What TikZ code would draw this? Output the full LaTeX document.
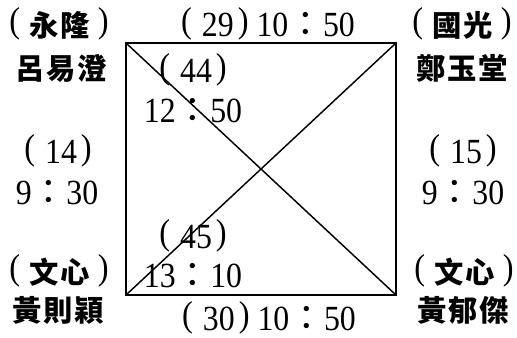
\documentclass[tikz,border=0pt]{standalone}
\usepackage{fontspec}
\setmainfont{Liberation Serif}
\newfontfamily\cjkfont[LetterSpace=6]{Noto Sans CJK TC}
\newfontfamily\colonfont{Noto Sans CJK TC}
\newfontfamily\numfont[FakeStretch=0.9]{Liberation Serif}
\usetikzlibrary{positioning}
% parentheses and colon as printed
\newcommand{\lpr}{{\numfont\mdseries\fontsize{27}{30}\selectfont\raisebox{2.5pt}{(}}}
\newcommand{\rpr}{{\numfont\mdseries\fontsize{27}{30}\selectfont\raisebox{2.5pt}{)}}}
\newcommand{\pnum}[1]{\lpr\kern7.5pt#1\kern3pt\rpr}
\newcommand{\hm}[2]{#1{\colonfont\fontsize{26}{30}\selectfont ：}#2}
\newcommand{\team}[1]{\lpr\kern7pt#1\kern6pt\rpr}
\tikzset{
  numtext/.style={anchor=base, inner sep=0pt,
    font=\numfont\fontsize{26.5}{30}\selectfont},
  nametext/.style={anchor=base, inner sep=0pt,
    font=\cjkfont\bfseries\fontsize{22}{26}\selectfont},
  frame/.style={line width=2.2pt, line join=miter},
  diag/.style={line width=1.1pt}
}
\begin{document}
\begin{tikzpicture}[x=0.75pt,y=-0.75pt]
  \useasboundingbox (0,0) rectangle (517,337);
  % Corners of the court
  \coordinate (nw) at (126,43);
  \coordinate (ne) at (396,43);
  \coordinate (se) at (396,295);
  \coordinate (sw) at (126,295);

  % Court and diagonals
  \draw[frame] (nw) -- (ne) -- (se) -- (sw) -- cycle;
  \draw[diag] (nw) -- (se);
  \draw[diag] (sw) -- (ne);

  % Teams at the corners
  \node[nametext] (teamnw) at (59,36) {\team{永隆}};
  \node[nametext] (namenw) at (61,79) {呂易澄};
  \node[nametext] (teamne) at (462,36) {\team{國光}};
  \node[nametext] (namene) at (462,79) {鄭玉堂};
  \node[nametext] (teamsw) at (59,283) {\team{文心}};
  \node[nametext] (namesw) at (58,321) {黃則穎};
  \node[nametext] (teamse) at (464,283) {\team{文心}};
  \node[nametext] (namese) at (463,321) {黃郁傑};

  % Games and times
  \node[numtext] (top) at (268,36) {\pnum{29}\kern6pt\hm{10}{50}};
  \node[numtext] (bottom) at (269,330) {\pnum{30}\kern6pt\hm{10}{50}};
  \node[numtext] (leftno) at (58,163) {\pnum{14}};
  \node[numtext] (lefttime) at (57,204) {\hm{9}{30}};
  \node[numtext] (rightno) at (463,163) {\pnum{15}};
  \node[numtext] (righttime) at (463,204) {\hm{9}{30}};
  \node[numtext] (diagno) at (193,82) {\pnum{44}};
  \node[numtext] (diagtime) at (193,122) {\hm{12}{50}};
  \node[numtext] (crossno) at (193,248) {\pnum{45}};
  \node[numtext] (crosstime) at (193,287) {\hm{13}{10}};
\end{tikzpicture}
\end{document}
